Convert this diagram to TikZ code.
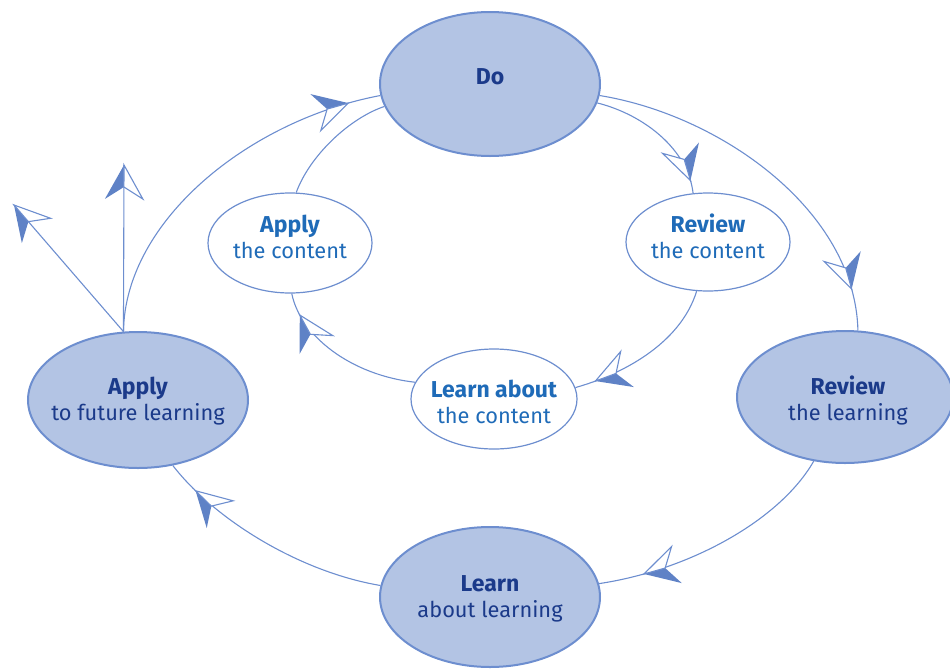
\documentclass[tikz,border=0pt]{standalone}
\usepackage{fontspec}
\setmainfont{Fira Sans}
\usetikzlibrary{shapes.geometric,decorations.markings}
\definecolor{edge}{HTML}{6D8ECF}
\definecolor{outerfill}{HTML}{B3C4E4}
\definecolor{navy}{HTML}{1B3A8A}
\definecolor{midblue}{HTML}{1F6BB8}
\definecolor{tipfill}{HTML}{5F82C6}
\newcommand{\hd}[1]{{\fontsize{23}{26}\selectfont\bfseries #1}}
\tikzset{
  lbl/.style={align=center, inner sep=0pt, font=\fontsize{21.8}{26}\selectfont},
  outerell/.style={ellipse, draw=edge, line width=2pt, fill=outerfill, inner sep=0pt},
  innerell/.style={ellipse, draw=edge, line width=1.2pt, fill=white, inner sep=0pt},
  conn/.style={draw=edge, line width=1.1pt},
  plane/.style={postaction={decorate, decoration={markings,
    mark=at position #1 with {
      \fill[tipfill] (0pt,0pt)--(-34pt,19pt)--(-22pt,0pt)--cycle;
      \draw[edge, line width=1.1pt, fill=white, line join=miter]
        (0pt,0pt)--(-34pt,-19pt)--(-22pt,0pt)--cycle;}}}}
}
\begin{document}
\begin{tikzpicture}[x=1pt, y=-1pt]
\useasboundingbox (0,0) rectangle (950,670);
% outer ellipses
\node[outerell, minimum width=220pt, minimum height=144pt,
  label={[lbl, text=navy, yshift=7pt]center:\hd{Do}}] (do) at (490,84) {};
\node[outerell, minimum width=216pt, minimum height=132pt,
  label={[lbl, text=navy, yshift=-3pt, xshift=3pt]center:\hd{Review}\\the learning}] (rl) at (845,397) {};
\node[outerell, minimum width=220pt, minimum height=140pt,
  label={[lbl, text=navy, yshift=-1.5pt]center:\hd{Learn}\\about learning}] (ll) at (490,597) {};
\node[outerell, minimum width=220pt, minimum height=136pt,
  label={[lbl, text=navy, yshift=-1.5pt]center:\hd{Apply}\\to future learning}] (af) at (138,400) {};
% inner ellipses
\node[innerell, minimum width=164pt, minimum height=100pt,
  label={[lbl, text=midblue, yshift=6pt]center:\hd{Apply}\\the content}] (ac) at (290,243) {};
\node[innerell, minimum width=164pt, minimum height=98pt,
  label={[lbl, text=midblue, yshift=5.5pt]center:\hd{Review}\\the content}] (rc) at (708,242) {};
\node[innerell, minimum width=166pt, minimum height=100pt,
  label={[lbl, text=midblue, yshift=-3pt]center:\hd{Learn about}\\the content}] (lc) at (494,399) {};
% outer cycle
\draw[conn, plane=-42pt] (do.-6) .. controls (720,115) and (855,210) .. (rl.79);
\draw[conn, plane=-46pt] (rl.-116) .. controls (780,520) and (690,570) .. (ll.7);
\draw[conn, plane=-34pt] (ll.174) .. controls (300,572) and (215,520) .. (af.-62);
\draw[conn, plane=-33pt] (af.102) .. controls (125,220) and (250,120) .. (do.186);
% outgoing arrows
\coordinate (up) at (124,165);
\coordinate (ul) at (14,205);
\draw[conn, plane=1] (af.102) -- (up);
\draw[conn, plane=1] (af.102) -- (ul);
% inner cycle
\draw[conn, plane=-13pt] (do.-10) .. controls (645,115) and (688,150) .. (rc.107);
\draw[conn, plane=-21pt] (rc.-103) .. controls (680,345) and (620,375) .. (lc.8);
\draw[conn, plane=-23pt] (lc.168) .. controls (350,375) and (300,335) .. (ac.-88);
\draw[conn] (ac.83) .. controls (310,155) and (350,118) .. (do.192);
\end{tikzpicture}
\end{document}
